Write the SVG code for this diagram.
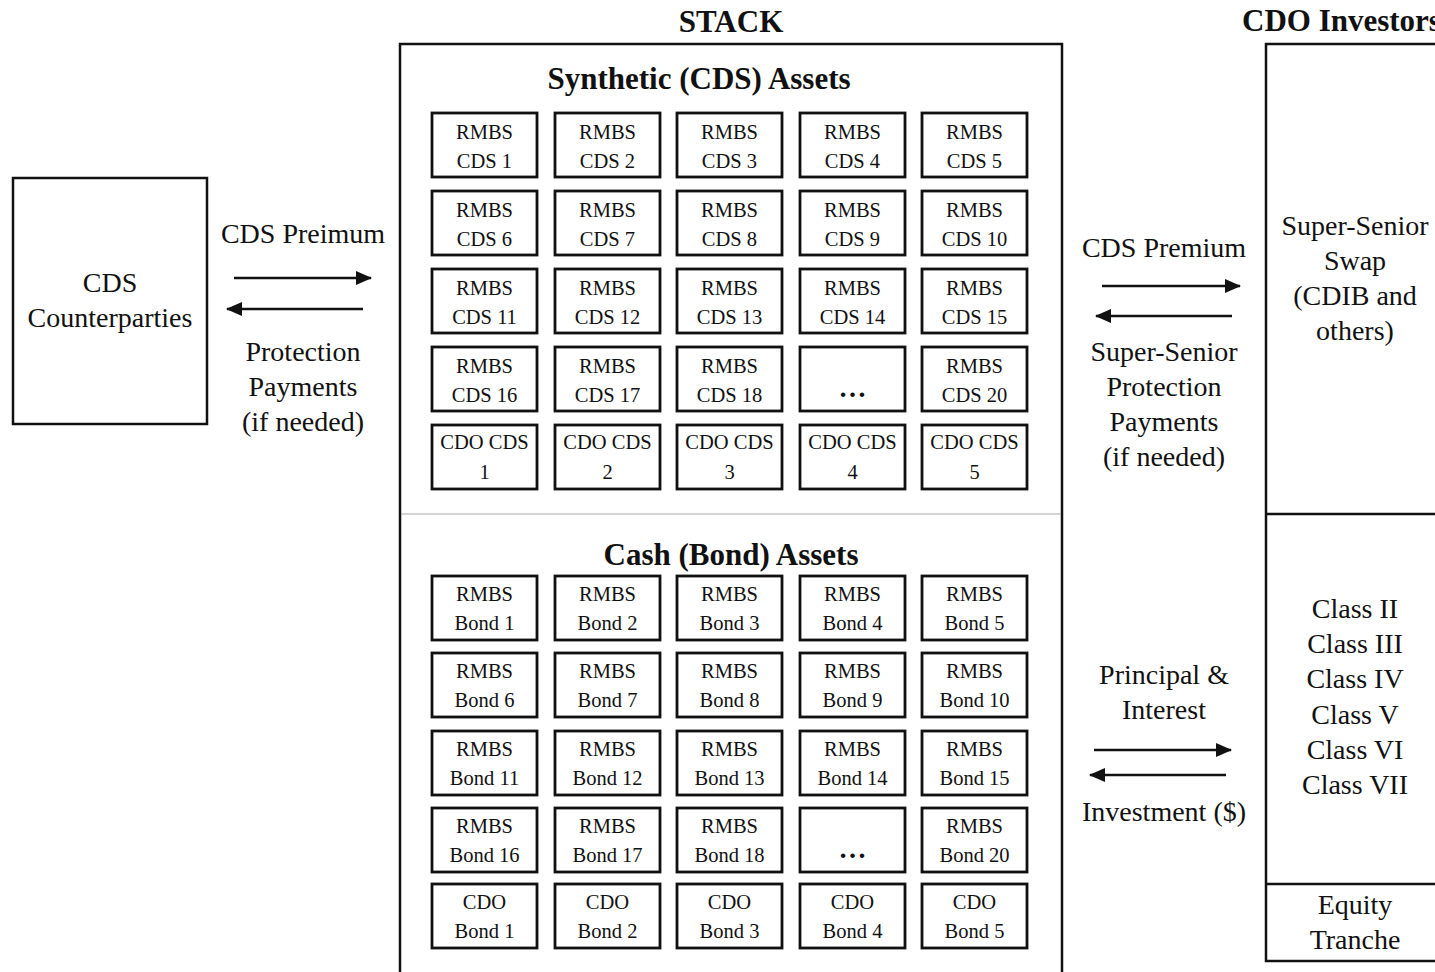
<svg xmlns="http://www.w3.org/2000/svg" width="1435" height="972" viewBox="0 0 1435 972">
  <style>
    text { font-family: "Liberation Serif", "Times New Roman", serif; fill: #111; text-anchor: middle; }
    .title { font-size: 31px; font-weight: bold; }
    .label { font-size: 28px; }
    .cell-text { font-size: 20.5px; }
    .more { font-size: 28px; font-weight: bold; }
    .frame { fill: none; stroke: #111; stroke-width: 2.5; }
    .cell { fill: #fff; stroke: #111; stroke-width: 2.8; }
    .divider { stroke: #aaa; stroke-width: 1.2; }
    .flow { stroke: #111; stroke-width: 2.6; fill: none; marker-end: url(#head); }
  </style>
  <defs>
    <marker id="head" markerUnits="userSpaceOnUse" markerWidth="16" markerHeight="14" refX="15" refY="7" orient="auto">
      <path d="M0,0 L16,7 L0,14 z" fill="#111"/>
    </marker>
  </defs>

  <rect width="1435" height="972" fill="#fff"/>

  <!-- Headings -->
  <text class="title" x="731" y="32">STACK</text>
  <text class="title" x="1242" y="31" style="text-anchor:start">CDO Investors</text>

  <!-- CDS counterparties -->
  <g id="cds-counterparties">
    <rect class="frame" x="13" y="178" width="194" height="246"/>
    <text class="label" x="110" y="292">CDS</text>
    <text class="label" x="110" y="327">Counterparties</text>
  </g>

  <!-- Stack of assets -->
  <g id="stack">
    <rect class="frame" x="400" y="44" width="662" height="960"/>
    <line class="divider" x1="401" y1="514" x2="1061" y2="514"/>
    <text class="title" x="699" y="89">Synthetic (CDS) Assets</text>
    <text class="title" x="731" y="565">Cash (Bond) Assets</text>
  </g>

  <!-- Synthetic (CDS) assets -->
  <g id="synthetic-assets">
    <g id="cds-1"><rect class="cell" x="432" y="113" width="105" height="64"/><text class="cell-text" x="484.5" y="139">RMBS</text><text class="cell-text" x="484.5" y="168">CDS 1</text></g>
    <g id="cds-2"><rect class="cell" x="555" y="113" width="105" height="64"/><text class="cell-text" x="607.5" y="139">RMBS</text><text class="cell-text" x="607.5" y="168">CDS 2</text></g>
    <g id="cds-3"><rect class="cell" x="677" y="113" width="105" height="64"/><text class="cell-text" x="729.5" y="139">RMBS</text><text class="cell-text" x="729.5" y="168">CDS 3</text></g>
    <g id="cds-4"><rect class="cell" x="800" y="113" width="105" height="64"/><text class="cell-text" x="852.5" y="139">RMBS</text><text class="cell-text" x="852.5" y="168">CDS 4</text></g>
    <g id="cds-5"><rect class="cell" x="922" y="113" width="105" height="64"/><text class="cell-text" x="974.5" y="139">RMBS</text><text class="cell-text" x="974.5" y="168">CDS 5</text></g>

    <g id="cds-6"><rect class="cell" x="432" y="191" width="105" height="64"/><text class="cell-text" x="484.5" y="217">RMBS</text><text class="cell-text" x="484.5" y="246">CDS 6</text></g>
    <g id="cds-7"><rect class="cell" x="555" y="191" width="105" height="64"/><text class="cell-text" x="607.5" y="217">RMBS</text><text class="cell-text" x="607.5" y="246">CDS 7</text></g>
    <g id="cds-8"><rect class="cell" x="677" y="191" width="105" height="64"/><text class="cell-text" x="729.5" y="217">RMBS</text><text class="cell-text" x="729.5" y="246">CDS 8</text></g>
    <g id="cds-9"><rect class="cell" x="800" y="191" width="105" height="64"/><text class="cell-text" x="852.5" y="217">RMBS</text><text class="cell-text" x="852.5" y="246">CDS 9</text></g>
    <g id="cds-10"><rect class="cell" x="922" y="191" width="105" height="64"/><text class="cell-text" x="974.5" y="217">RMBS</text><text class="cell-text" x="974.5" y="246">CDS 10</text></g>

    <g id="cds-11"><rect class="cell" x="432" y="269" width="105" height="64"/><text class="cell-text" x="484.5" y="295">RMBS</text><text class="cell-text" x="484.5" y="324">CDS 11</text></g>
    <g id="cds-12"><rect class="cell" x="555" y="269" width="105" height="64"/><text class="cell-text" x="607.5" y="295">RMBS</text><text class="cell-text" x="607.5" y="324">CDS 12</text></g>
    <g id="cds-13"><rect class="cell" x="677" y="269" width="105" height="64"/><text class="cell-text" x="729.5" y="295">RMBS</text><text class="cell-text" x="729.5" y="324">CDS 13</text></g>
    <g id="cds-14"><rect class="cell" x="800" y="269" width="105" height="64"/><text class="cell-text" x="852.5" y="295">RMBS</text><text class="cell-text" x="852.5" y="324">CDS 14</text></g>
    <g id="cds-15"><rect class="cell" x="922" y="269" width="105" height="64"/><text class="cell-text" x="974.5" y="295">RMBS</text><text class="cell-text" x="974.5" y="324">CDS 15</text></g>

    <g id="cds-16"><rect class="cell" x="432" y="347" width="105" height="64"/><text class="cell-text" x="484.5" y="373">RMBS</text><text class="cell-text" x="484.5" y="402">CDS 16</text></g>
    <g id="cds-17"><rect class="cell" x="555" y="347" width="105" height="64"/><text class="cell-text" x="607.5" y="373">RMBS</text><text class="cell-text" x="607.5" y="402">CDS 17</text></g>
    <g id="cds-18"><rect class="cell" x="677" y="347" width="105" height="64"/><text class="cell-text" x="729.5" y="373">RMBS</text><text class="cell-text" x="729.5" y="402">CDS 18</text></g>
    <g id="cds-more"><rect class="cell" x="800" y="347" width="105" height="64"/><text class="more" x="852.5" y="397">…</text></g>
    <g id="cds-20"><rect class="cell" x="922" y="347" width="105" height="64"/><text class="cell-text" x="974.5" y="373">RMBS</text><text class="cell-text" x="974.5" y="402">CDS 20</text></g>

    <g id="cdo-cds-1"><rect class="cell" x="432" y="425" width="105" height="64"/><text class="cell-text" x="484.5" y="449">CDO CDS</text><text class="cell-text" x="484.5" y="479">1</text></g>
    <g id="cdo-cds-2"><rect class="cell" x="555" y="425" width="105" height="64"/><text class="cell-text" x="607.5" y="449">CDO CDS</text><text class="cell-text" x="607.5" y="479">2</text></g>
    <g id="cdo-cds-3"><rect class="cell" x="677" y="425" width="105" height="64"/><text class="cell-text" x="729.5" y="449">CDO CDS</text><text class="cell-text" x="729.5" y="479">3</text></g>
    <g id="cdo-cds-4"><rect class="cell" x="800" y="425" width="105" height="64"/><text class="cell-text" x="852.5" y="449">CDO CDS</text><text class="cell-text" x="852.5" y="479">4</text></g>
    <g id="cdo-cds-5"><rect class="cell" x="922" y="425" width="105" height="64"/><text class="cell-text" x="974.5" y="449">CDO CDS</text><text class="cell-text" x="974.5" y="479">5</text></g>
  </g>

  <!-- Cash (bond) assets -->
  <g id="cash-assets">
    <g id="bond-1"><rect class="cell" x="432" y="576" width="105" height="64"/><text class="cell-text" x="484.5" y="601">RMBS</text><text class="cell-text" x="484.5" y="630">Bond 1</text></g>
    <g id="bond-2"><rect class="cell" x="555" y="576" width="105" height="64"/><text class="cell-text" x="607.5" y="601">RMBS</text><text class="cell-text" x="607.5" y="630">Bond 2</text></g>
    <g id="bond-3"><rect class="cell" x="677" y="576" width="105" height="64"/><text class="cell-text" x="729.5" y="601">RMBS</text><text class="cell-text" x="729.5" y="630">Bond 3</text></g>
    <g id="bond-4"><rect class="cell" x="800" y="576" width="105" height="64"/><text class="cell-text" x="852.5" y="601">RMBS</text><text class="cell-text" x="852.5" y="630">Bond 4</text></g>
    <g id="bond-5"><rect class="cell" x="922" y="576" width="105" height="64"/><text class="cell-text" x="974.5" y="601">RMBS</text><text class="cell-text" x="974.5" y="630">Bond 5</text></g>

    <g id="bond-6"><rect class="cell" x="432" y="653" width="105" height="64"/><text class="cell-text" x="484.5" y="678">RMBS</text><text class="cell-text" x="484.5" y="707">Bond 6</text></g>
    <g id="bond-7"><rect class="cell" x="555" y="653" width="105" height="64"/><text class="cell-text" x="607.5" y="678">RMBS</text><text class="cell-text" x="607.5" y="707">Bond 7</text></g>
    <g id="bond-8"><rect class="cell" x="677" y="653" width="105" height="64"/><text class="cell-text" x="729.5" y="678">RMBS</text><text class="cell-text" x="729.5" y="707">Bond 8</text></g>
    <g id="bond-9"><rect class="cell" x="800" y="653" width="105" height="64"/><text class="cell-text" x="852.5" y="678">RMBS</text><text class="cell-text" x="852.5" y="707">Bond 9</text></g>
    <g id="bond-10"><rect class="cell" x="922" y="653" width="105" height="64"/><text class="cell-text" x="974.5" y="678">RMBS</text><text class="cell-text" x="974.5" y="707">Bond 10</text></g>

    <g id="bond-11"><rect class="cell" x="432" y="731" width="105" height="64"/><text class="cell-text" x="484.5" y="756">RMBS</text><text class="cell-text" x="484.5" y="785">Bond 11</text></g>
    <g id="bond-12"><rect class="cell" x="555" y="731" width="105" height="64"/><text class="cell-text" x="607.5" y="756">RMBS</text><text class="cell-text" x="607.5" y="785">Bond 12</text></g>
    <g id="bond-13"><rect class="cell" x="677" y="731" width="105" height="64"/><text class="cell-text" x="729.5" y="756">RMBS</text><text class="cell-text" x="729.5" y="785">Bond 13</text></g>
    <g id="bond-14"><rect class="cell" x="800" y="731" width="105" height="64"/><text class="cell-text" x="852.5" y="756">RMBS</text><text class="cell-text" x="852.5" y="785">Bond 14</text></g>
    <g id="bond-15"><rect class="cell" x="922" y="731" width="105" height="64"/><text class="cell-text" x="974.5" y="756">RMBS</text><text class="cell-text" x="974.5" y="785">Bond 15</text></g>

    <g id="bond-16"><rect class="cell" x="432" y="808" width="105" height="64"/><text class="cell-text" x="484.5" y="833">RMBS</text><text class="cell-text" x="484.5" y="862">Bond 16</text></g>
    <g id="bond-17"><rect class="cell" x="555" y="808" width="105" height="64"/><text class="cell-text" x="607.5" y="833">RMBS</text><text class="cell-text" x="607.5" y="862">Bond 17</text></g>
    <g id="bond-18"><rect class="cell" x="677" y="808" width="105" height="64"/><text class="cell-text" x="729.5" y="833">RMBS</text><text class="cell-text" x="729.5" y="862">Bond 18</text></g>
    <g id="bond-more"><rect class="cell" x="800" y="808" width="105" height="64"/><text class="more" x="852.5" y="858">…</text></g>
    <g id="bond-20"><rect class="cell" x="922" y="808" width="105" height="64"/><text class="cell-text" x="974.5" y="833">RMBS</text><text class="cell-text" x="974.5" y="862">Bond 20</text></g>

    <g id="cdo-bond-1"><rect class="cell" x="432" y="884" width="105" height="64"/><text class="cell-text" x="484.5" y="909">CDO</text><text class="cell-text" x="484.5" y="938">Bond 1</text></g>
    <g id="cdo-bond-2"><rect class="cell" x="555" y="884" width="105" height="64"/><text class="cell-text" x="607.5" y="909">CDO</text><text class="cell-text" x="607.5" y="938">Bond 2</text></g>
    <g id="cdo-bond-3"><rect class="cell" x="677" y="884" width="105" height="64"/><text class="cell-text" x="729.5" y="909">CDO</text><text class="cell-text" x="729.5" y="938">Bond 3</text></g>
    <g id="cdo-bond-4"><rect class="cell" x="800" y="884" width="105" height="64"/><text class="cell-text" x="852.5" y="909">CDO</text><text class="cell-text" x="852.5" y="938">Bond 4</text></g>
    <g id="cdo-bond-5"><rect class="cell" x="922" y="884" width="105" height="64"/><text class="cell-text" x="974.5" y="909">CDO</text><text class="cell-text" x="974.5" y="938">Bond 5</text></g>
  </g>

  <!-- CDO investor tranches -->
  <g id="cdo-investors">
    <rect class="frame" x="1266" y="44" width="200" height="917"/>
    <line class="frame" x1="1266" y1="514" x2="1440" y2="514"/>
    <line class="frame" x1="1266" y1="884" x2="1440" y2="884"/>
    <g id="super-senior">
      <text class="label" x="1355" y="235">Super-Senior</text>
      <text class="label" x="1355" y="270">Swap</text>
      <text class="label" x="1355" y="305">(CDIB and</text>
      <text class="label" x="1355" y="340">others)</text>
    </g>
    <g id="mezzanine">
      <text class="label" x="1355" y="618">Class II</text>
      <text class="label" x="1355" y="653">Class III</text>
      <text class="label" x="1355" y="688">Class IV</text>
      <text class="label" x="1355" y="724">Class V</text>
      <text class="label" x="1355" y="759">Class VI</text>
      <text class="label" x="1355" y="794">Class VII</text>
    </g>
    <g id="equity">
      <text class="label" x="1355" y="914">Equity</text>
      <text class="label" x="1355" y="949">Tranche</text>
    </g>
  </g>

  <!-- Cash flows -->
  <g id="connectors">
    <line class="flow" x1="234" y1="278" x2="371" y2="278"/>
    <line class="flow" x1="363" y1="309" x2="227" y2="309"/>
    <line class="flow" x1="1102" y1="286" x2="1240" y2="286"/>
    <line class="flow" x1="1232" y1="316" x2="1096" y2="316"/>
    <line class="flow" x1="1094" y1="750" x2="1231" y2="750"/>
    <line class="flow" x1="1226" y1="775" x2="1090" y2="775"/>
  </g>

  <!-- Flow labels -->
  <g id="flow-labels">
    <text class="label" x="303" y="243">CDS Preimum</text>
    <text class="label" x="303" y="361">Protection</text>
    <text class="label" x="303" y="396">Payments</text>
    <text class="label" x="303" y="431">(if needed)</text>

    <text class="label" x="1164" y="257">CDS Premium</text>
    <text class="label" x="1164" y="361">Super-Senior</text>
    <text class="label" x="1164" y="396">Protection</text>
    <text class="label" x="1164" y="431">Payments</text>
    <text class="label" x="1164" y="466">(if needed)</text>

    <text class="label" x="1164" y="684">Principal &amp;</text>
    <text class="label" x="1164" y="719">Interest</text>
    <text class="label" x="1164" y="821">Investment ($)</text>
  </g>
</svg>
